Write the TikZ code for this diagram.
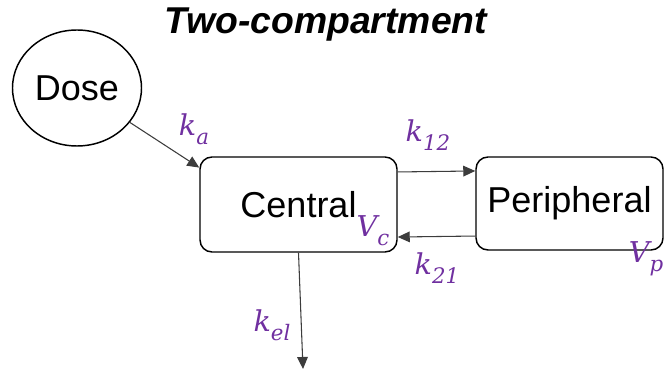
\documentclass[tikz,border=0pt]{standalone}
\usepackage{fontspec}
\setmainfont{Liberation Sans}
\newfontfamily\ratefont{DejaVu Serif}
\usetikzlibrary{arrows.meta,shapes.geometric}
\definecolor{labelpurple}{RGB}{112,48,160}
\definecolor{flowgray}{RGB}{60,60,60}
% italic symbol with a lowered italic subscript
\newcommand{\ratesym}[2]{{\itshape #1}\raisebox{-0.3em}{\fontsize{16}{18}\selectfont\itshape #2}}
\begin{document}
\begin{tikzpicture}[x=0.75pt,y=-0.75pt,
  compartment/.style={draw=black,line width=1.1pt,rounded corners=9pt,
    inner sep=0pt,font=\fontsize{27}{30}\selectfont},
  flow/.style={draw=flowgray,line width=0.8pt,-{Triangle[length=9pt,width=8pt]}},
  rate/.style={text=labelpurple,inner sep=0pt,font=\ratefont\fontsize{21.5}{24}\selectfont}]
\useasboundingbox (0,0) rectangle (664,370);

% title
\node[font=\fontsize{28}{32}\selectfont\bfseries\itshape] (title) at (326,25) {Two-compartment};

% dose and compartments
\node[ellipse,draw=black,line width=1.1pt,minimum width=96.75pt,minimum height=87pt,
  inner sep=0pt,font=\fontsize{27}{30}\selectfont] (dose) at (77,88) {Dose};
\node[compartment,minimum width=147.75pt,minimum height=71.25pt] (central) at (298.5,204.5) {Central};
\node[compartment,minimum width=140.25pt,minimum height=69.75pt] (peripheral) at (569.5,203.5) {Peripheral};

% connector end points
\coordinate (cin) at ([yshift=-8.5pt]central.north west);
\coordinate (out) at (303,369);

% flows
\draw[flow] (dose) -- (cin);
\draw[flow] ([yshift=24.4pt]central.east) -- ([yshift=24.4pt]peripheral.west);
\draw[flow] ([yshift=-24.4pt]peripheral.west) -- ([yshift=-24.4pt]central.east);
\draw[flow] (central.south) -- (out);

% rate constants and volumes
\node[rate] (ka) at (194,129) {\ratesym{k}{a}};
\node[rate] (k12) at (428,135) {\ratesym{k}{12}};
\node[rate] (k21) at (437,268) {\ratesym{k}{21}};
\node[rate] (kel) at (272,325) {\ratesym{k}{el}};
\node[rate] (vc) at (373,231) {\ratesym{V}{c}};
\node[rate] (vp) at (646,259) {\ratesym{V}{p}};
\end{tikzpicture}
\end{document}
